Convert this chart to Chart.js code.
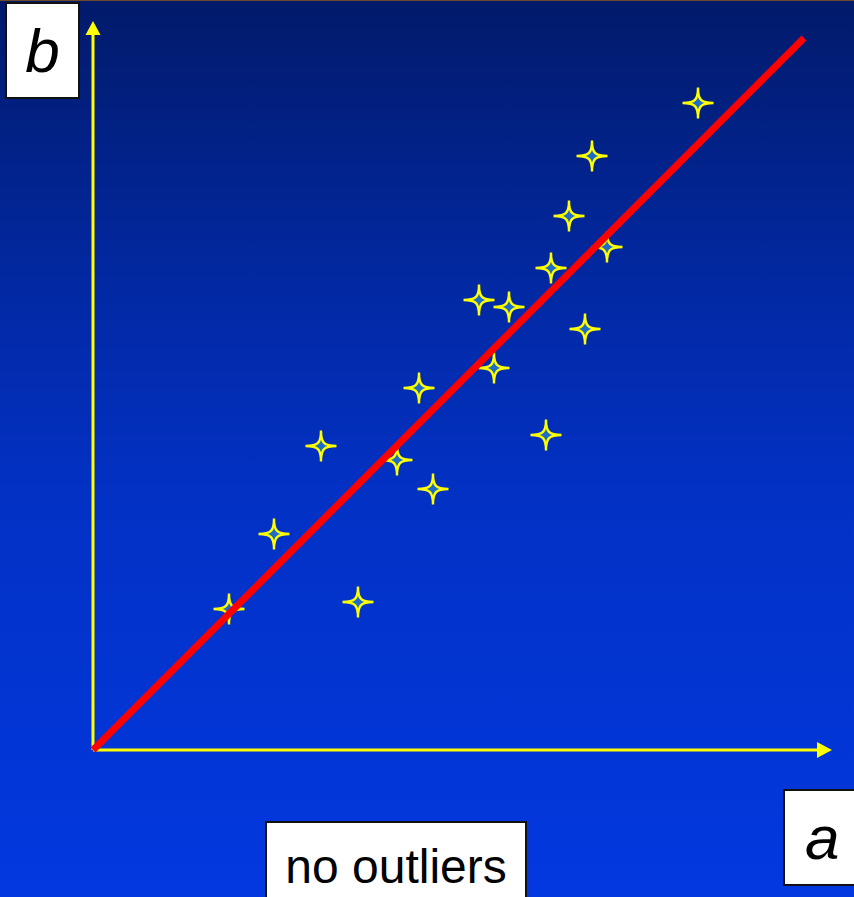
<!DOCTYPE html>
<html>
<head>
<meta charset="utf-8">
<script src="https://cdn.jsdelivr.net/npm/chart.js@4.4.1/dist/chart.umd.min.js"></script>
<style>
  html, body { margin: 0; padding: 0; }
  body { width: 854px; height: 897px; overflow: hidden; }
  #wrap {
    position: relative; width: 854px; height: 897px;
    background: linear-gradient(to bottom, #011a6a 0%, #0228a0 30%, #0231c4 55%, #0238e0 100%);
  }
  #topLine { position: absolute; left: 0; top: 0; width: 854px; height: 1px; background: #6b4a2a; }
  #myChart { position: absolute; left: 0; top: 0; }
  .lbl {
    position: absolute; background: #fff; border: 2px solid #111;
    box-sizing: border-box; color: #000;
    font-family: "Liberation Sans", Arial, sans-serif;
    display: flex; align-items: center; justify-content: center;
  }
  #lblB { left: 5px; top: 2px; width: 75px; height: 97px; font-style: italic; font-size: 62px; }
  #lblA { left: 783px; top: 789px; width: 80px; height: 97px; font-style: italic; font-size: 62px; justify-content: flex-start; padding-left: 20px; }
  #lblNo { left: 265px; top: 821px; width: 262px; height: 90px; font-size: 48px; align-items: flex-start; padding-top: 16px; }
</style>
</head>
<body>
<div id="wrap">
  <canvas id="myChart" width="854" height="897"></canvas>
  <div id="topLine"></div>
  <div class="lbl" id="lblB">b</div>
  <div class="lbl" id="lblA">a</div>
  <div class="lbl" id="lblNo">no outliers</div>
</div>
<script>
// measurements: a on the x axis, b on the y axis
var aValues = [13.6, 18.1, 22.8, 26.5, 30.4, 32.6, 34.0, 38.6, 40.1, 41.6, 45.3, 45.8, 47.6, 49.2, 49.9, 51.4, 60.5]
var bValues = [14.1, 21.6, 30.4, 14.8, 29.0, 36.2, 26.1, 45.0, 38.2, 44.3, 31.5, 48.2, 53.4, 42.1, 59.4, 50.3, 64.7]

// fitted line, through the origin
var fitA = [0, 71.1]
var fitB = [0, 71.2]

// axis extents (line end, arrow tip)
var xAxisEnd = [72.4, 73.9]
var yAxisEnd = [71.5, 72.9]

// 4-pointed star marker, thin concave arms
function makeStar() {
    var c = document.createElement('canvas')
    c.width = 36; c.height = 36
    var g = c.getContext('2d')
    var cx = 18, cy = 18, R = 15.5, k = 3
    var tips = [[0, -R], [R, 0], [0, R], [-R, 0]]
    var near = [[0, -k], [k, 0], [0, k], [-k, 0]]
    g.beginPath()
    g.moveTo(cx + tips[0][0], cy + tips[0][1])
    for (var i = 0; i < 4; i++) {
        var j = (i + 1) % 4
        g.bezierCurveTo(cx + near[i][0], cy + near[i][1], cx + near[j][0], cy + near[j][1],
            cx + tips[j][0], cy + tips[j][1])
    }
    g.closePath()
    g.fillStyle = '#1f6cc4'
    g.fill()
    g.lineWidth = 2.4
    g.lineJoin = 'miter'
    g.strokeStyle = '#ffff00'
    g.stroke()
    return c
}
var star = makeStar()

// yellow axes with arrow heads, drawn under the data
var axesPlugin = {
    id: 'arrowAxes',
    beforeDatasetsDraw: function (chart) {
        var ctx = chart.ctx
        var xs = chart.scales.x, ys = chart.scales.y
        var x0 = xs.getPixelForValue(0), y0 = ys.getPixelForValue(0)
        var xe = xs.getPixelForValue(xAxisEnd[0]), xt = xs.getPixelForValue(xAxisEnd[1])
        var ye = ys.getPixelForValue(yAxisEnd[0]), yt = ys.getPixelForValue(yAxisEnd[1])
        ctx.save()
        ctx.strokeStyle = '#ffff00'
        ctx.fillStyle = '#ffff00'
        ctx.lineWidth = 3
        ctx.beginPath()
        ctx.moveTo(x0, y0); ctx.lineTo(xe, y0)
        ctx.moveTo(x0, y0); ctx.lineTo(x0, ye)
        ctx.stroke()
        ctx.beginPath()
        ctx.moveTo(xt, y0); ctx.lineTo(xe, y0 - 8); ctx.lineTo(xe, y0 + 8); ctx.closePath()
        ctx.fill()
        ctx.beginPath()
        ctx.moveTo(x0, yt); ctx.lineTo(x0 - 7.5, ye); ctx.lineTo(x0 + 7.5, ye); ctx.closePath()
        ctx.fill()
        ctx.restore()
    }
}

var points = aValues.map(function (a, i) { return { x: a, y: bValues[i] } })
var fit = fitA.map(function (a, i) { return { x: a, y: fitB[i] } })

var ctx = document.getElementById('myChart').getContext('2d')
var myChart = new Chart(ctx, {
    type: 'scatter',
    data: {
        datasets: [{
            type: 'line',
            label: 'fit',
            data: fit,
            borderColor: '#ff0000',
            borderWidth: 7,
            borderCapStyle: 'butt',
            pointRadius: 0,
            fill: false,
            order: 0
        }, {
            label: 'points',
            data: points,
            pointStyle: star,
            pointRadius: 16,
            order: 1
        }]
    },
    options: {
        responsive: false,
        animation: false,
        layout: { padding: 0, autoPadding: false },
        plugins: { legend: { display: false }, tooltip: { enabled: false } },
        scales: {
            x: { type: 'linear', min: -9.3, max: 76.1, display: false },
            y: { type: 'linear', min: -14.7, max: 75.0, display: false }
        }
    },
    plugins: [axesPlugin]
});
</script>
</body>
</html>
